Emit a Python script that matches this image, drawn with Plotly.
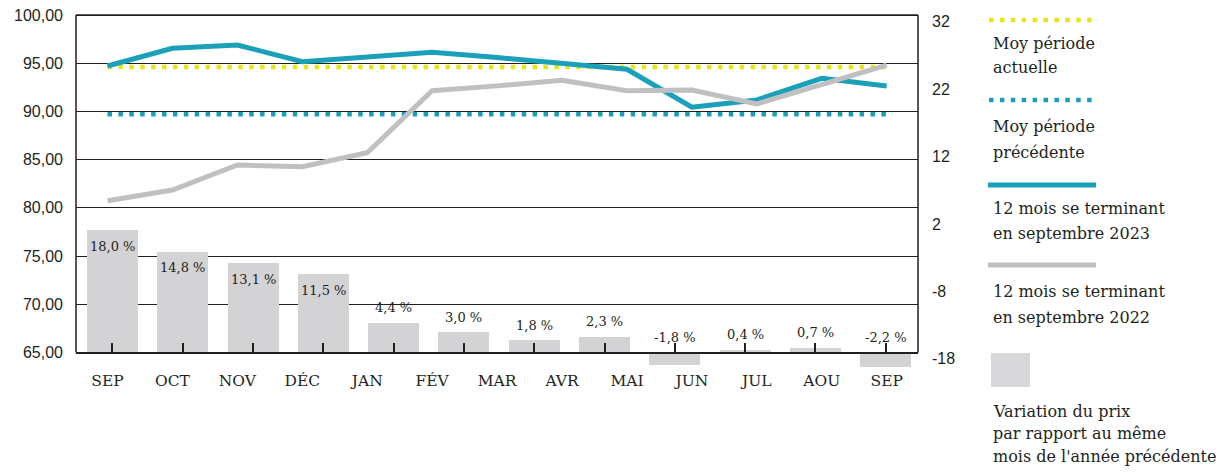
import plotly.graph_objects as go

# ---------------- data ----------------
MONTHS = ["SEP", "OCT", "NOV", "DÉC", "JAN", "FÉV", "MAR", "AVR", "MAI", "JUN", "JUL", "AOU", "SEP"]
PRICE_2023 = [94.71, 96.55, 96.89, 95.16, 95.64, 96.13, 95.59, 94.95, 94.37, 90.43, 91.19, 93.44, 92.64]
PRICE_2022 = [80.74, 81.85, 84.44, 84.27, 85.72, 92.15, 92.65, 93.23, 92.15, 92.22, 90.77, 92.79, 94.81]
AVG_CURRENT = 94.6
AVG_PREVIOUS = 89.7
VARIATION = [18.0, 14.8, 13.1, 11.5, 4.4, 3.0, 1.8, 2.3, -1.8, 0.4, 0.7, -2.2]
LEFT_TICKS = [65, 70, 75, 80, 85, 90, 95, 100]
RIGHT_TICKS = [-18, -8, 2, 12, 22, 32]
LEGEND = [
    ["Moy période", "actuelle"],
    ["Moy période", "précédente"],
    ["12 mois se terminant", "en septembre 2023"],
    ["12 mois se terminant", "en septembre 2022"],
    ["Variation du prix", "par rapport au même", "mois de l'année précédente"],
]

# ---------------- style ----------------
TXT = "#231f20"
BLUE = "#1aa0b9"
YELLOW = "#e6e617"
GRAY = "#c0c0c3"
BAR = "#d3d3d5"
SERIF = "DejaVu Serif"
SANS = "Liberation Sans"
DOTS = "4.5px,6.4px"

# the page body has an 8px margin: the figure is offset by it in the window
OFF = 8
W, H = 1224 - OFF, 472 - OFF
PLOT_TOP, PLOT_BOTTOM, PLOT_LEFT, PLOT_RIGHT = 10, 370, 76, 918   # window pixels
L, T = PLOT_LEFT - OFF, PLOT_TOP - OFF
R = W - (PLOT_RIGHT - OFF)
B = H - (PLOT_BOTTOM - OFF)
PW, PH = W - L - R, H - T - B


def px(x):
    """window x (px) -> paper x"""
    return (x - OFF - L) / PW


def py(y):
    """window y (px) -> paper y"""
    return (H - B - (y - OFF)) / PH


P65 = py(352.5)

fig = go.Figure()

# invisible trace on the base subplot so overlays have a main plot
fig.add_trace(go.Scatter(x=[None], y=[None], xaxis="x", yaxis="y", showlegend=False, hoverinfo="skip"))

# bars (variation)
fig.add_trace(go.Bar(
    x=list(range(len(VARIATION))), y=VARIATION, xaxis="x", yaxis="y2",
    marker=dict(color=BAR, line=dict(width=0)), width=0.726, hoverinfo="skip",
    showlegend=False,
))


def fmt(v):
    return f"{v:.1f}".replace(".", ",") + " %"


n = len(MONTHS)
# averages
fig.add_trace(go.Scatter(x=[0, n - 1], y=[AVG_CURRENT, AVG_CURRENT], mode="lines",
                         line=dict(color=YELLOW, width=4.5, dash=DOTS),
                         xaxis="x2", yaxis="y", showlegend=False, hoverinfo="skip"))
fig.add_trace(go.Scatter(x=[0, n - 1], y=[AVG_PREVIOUS, AVG_PREVIOUS], mode="lines",
                         line=dict(color=BLUE, width=4.5, dash=DOTS),
                         xaxis="x2", yaxis="y", showlegend=False, hoverinfo="skip"))
# lines
fig.add_trace(go.Scatter(x=list(range(n)), y=PRICE_2023, mode="lines",
                         line=dict(color=BLUE, width=5),
                         xaxis="x2", yaxis="y", showlegend=False))
fig.add_trace(go.Scatter(x=list(range(n)), y=PRICE_2022, mode="lines",
                         line=dict(color=GRAY, width=5),
                         xaxis="x2", yaxis="y", showlegend=False))

# invisible trace so that the right axis is drawn
fig.add_trace(go.Scatter(x=[None], y=[None], xaxis="x", yaxis="y3", showlegend=False, hoverinfo="skip"))

# frame: left axis line, right border (65 to 100) and top line at 100
TOP_VALUE, BASE_VALUE = LEFT_TICKS[-1], LEFT_TICKS[0]
shapes = [
    dict(type="line", xref="paper", yref="y", x0=0, x1=0, y0=BASE_VALUE, y1=TOP_VALUE,
         line=dict(color=TXT, width=1.5)),
    dict(type="line", xref="paper", yref="y", x0=1, x1=1, y0=BASE_VALUE, y1=TOP_VALUE,
         line=dict(color=TXT, width=1.5)),
    dict(type="line", xref="paper", yref="y", x0=0, x1=1, y0=TOP_VALUE, y1=TOP_VALUE,
         line=dict(color=TXT, width=1.3), layer="below"),
]

# custom legend
shapes += [
    dict(type="line", xref="paper", yref="paper", x0=px(989), x1=px(1092), y0=py(20), y1=py(20),
         line=dict(color=YELLOW, width=4.5, dash=DOTS)),
    dict(type="line", xref="paper", yref="paper", x0=px(989), x1=px(1092), y0=py(100), y1=py(100),
         line=dict(color=BLUE, width=4.5, dash=DOTS)),
    dict(type="line", xref="paper", yref="paper", x0=px(988), x1=px(1096), y0=py(185), y1=py(185),
         line=dict(color=BLUE, width=5)),
    dict(type="line", xref="paper", yref="paper", x0=px(988), x1=px(1096), y0=py(265), y1=py(265),
         line=dict(color=GRAY, width=5)),
    dict(type="rect", xref="paper", yref="paper", x0=px(991), x1=px(1030), y0=py(387), y1=py(353),
         fillcolor="#d8d8da", line=dict(width=0)),
]

LEGEND_Y = [[43, 67], [127, 152], [208, 233], [291, 317], [411, 433, 456]]
annotations = []
for lines, ys in zip(LEGEND, LEGEND_Y):
    for txt, yy in zip(lines, ys):
        annotations.append(dict(
            text=txt, xref="paper", yref="paper", x=px(991), y=py(yy),
            xanchor="left", yanchor="middle", showarrow=False,
            font=dict(family=SERIF, size=16, color=TXT),
        ))

# bar value labels: inside the top of tall bars, above the bar / zero line otherwise
for i, v in enumerate(VARIATION):
    big = v >= 10
    annotations.append(dict(
        text=fmt(v), xref="x", yref="y2", x=i, y=v if big else max(v, 0),
        xanchor="center", yanchor="middle", showarrow=False,
        yshift=-16 if big else 15,
        font=dict(family=SERIF, size=13, color=TXT),
    ))

# axis scales (px per unit)
LEFT_PPU = (352.5 - 15) / 35          # 65 at y=352.5, 100 at y=15
BAR_PPU = 6.8                         # bar zero at y=352.5
RIGHT_PPU = (358.8 - 21.7) / 50       # -18 label at 358.8, 32 label at 21.7

y_range = [65 - (PLOT_BOTTOM - 352.5) / LEFT_PPU, 100 + (15 - PLOT_TOP) / LEFT_PPU]
y2_range = [-(PLOT_BOTTOM - 352.5) / BAR_PPU, (352.5 - PLOT_TOP) / BAR_PPU]
y3_range = [-18 - (PLOT_BOTTOM - 358.8) / RIGHT_PPU, 32 + (21.7 - PLOT_TOP) / RIGHT_PPU]

fig.update_layout(
    width=W, height=H, autosize=False,
    margin=dict(l=L, r=R, t=T, b=B, pad=0, autoexpand=False),
    paper_bgcolor="white", plot_bgcolor="white",
    separators=", ",
    showlegend=False,
    bargap=0,
    shapes=shapes, annotations=annotations,
    xaxis=dict(
        range=[-0.519, 11.46], anchor="free", position=P65, automargin=False,
        showline=True, linecolor=TXT, linewidth=1.5,
        ticks="inside", ticklen=9, tickwidth=1.5, tickcolor=TXT,
        tickvals=list(range(len(VARIATION))), showticklabels=False,
        showgrid=False, zeroline=False, fixedrange=True,
    ),
    xaxis2=dict(
        overlaying="x", range=[-0.485, 12.482], anchor="free", position=P65, side="bottom",
        automargin=False,
        showline=False, ticks="", tickvals=list(range(n)), ticktext=MONTHS,
        tickfont=dict(family=SERIF, size=15.5, color=TXT), ticklabelstandoff=17,
        showgrid=False, zeroline=False, fixedrange=True,
    ),
    yaxis=dict(
        range=y_range, tickvals=LEFT_TICKS, tickformat=".2f", automargin=False,
        showgrid=True, gridcolor=TXT, gridwidth=1.3, showline=False, zeroline=False,
        ticks="", ticklabelstandoff=12, ticklabeloverflow="allow",
        tickfont=dict(family=SANS, size=16, color=TXT), fixedrange=True,
    ),
    yaxis2=dict(overlaying="y", range=y2_range, visible=False, fixedrange=True,
                automargin=False),
    yaxis3=dict(
        overlaying="y", side="right", anchor="x", range=y3_range, automargin=False,
        tickvals=RIGHT_TICKS, ticktext=[str(v) for v in RIGHT_TICKS],
        showgrid=False, zeroline=False, showline=False,
        ticks="", ticklabelstandoff=13, ticklabeloverflow="allow",
        tickfont=dict(family=SANS, size=16, color=TXT), fixedrange=True,
    ),
)

fig.write_html("out.html")
